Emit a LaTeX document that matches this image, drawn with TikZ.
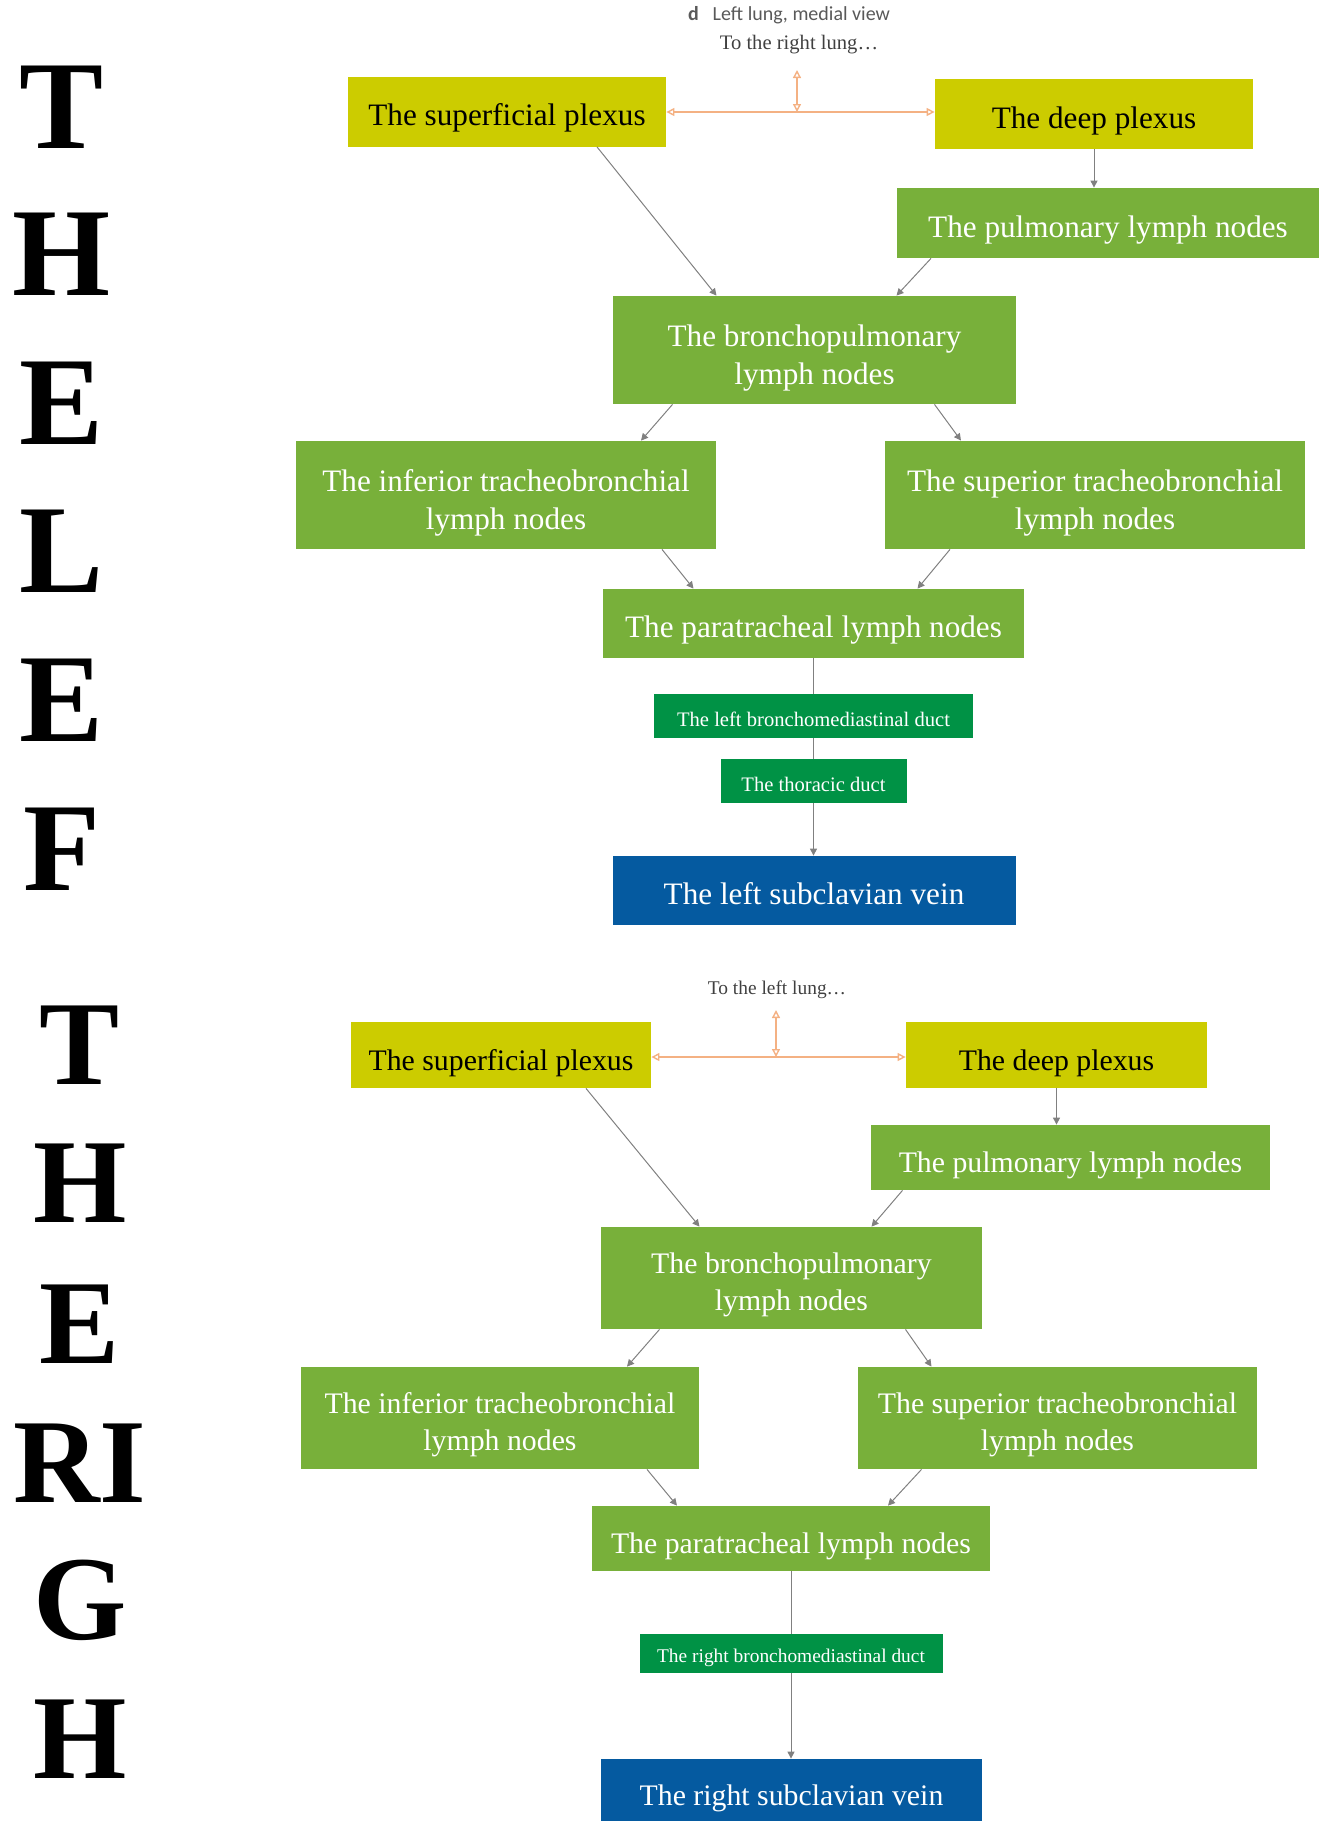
\documentclass[tikz,border=0pt]{standalone}
\usepackage{fontspec}
\setmainfont{Liberation Serif}
\newfontfamily\captionfont{Carlito}
\usepackage{xcolor}
\usepackage{tikz}
\definecolor{plexuscolor}{RGB}{204, 204, 0}
\definecolor{lymphcolor}{RGB}{120, 176, 58}
\definecolor{ductcolor}{RGB}{0, 146, 69}
\definecolor{veincolor}{RGB}{5, 90, 160}
\definecolor{lungcolor}{RGB}{244, 177, 131}
\definecolor{flowcolor}{RGB}{128, 128, 128}
\usetikzlibrary{arrows.meta, positioning, calc}
\def\firstlineht{18.6pt}
\newcommand{\firstline}{\rule{0pt}{\firstlineht}}

\begin{document}
\begin{tikzpicture}[
    x=0.5pt, y=-0.5pt,
    box/.style={rectangle, inner sep=0pt, align=center},
    bigfont/.style={font=\fontsize{15.6}{19}\selectfont, execute at begin node={\rule[-3.4pt]{0pt}{21pt}}},
    smallfont/.style={font=\fontsize{10.3}{12}\selectfont, execute at begin node={\rule[-2.2pt]{0pt}{14.9pt}}},
    plexus/.style={box, bigfont, fill=plexuscolor, text=black, minimum width=159pt, minimum height=35pt},
    lymph/.style={box, bigfont, fill=lymphcolor, text=white},
    duct/.style={box, smallfont, fill=ductcolor, text=white, minimum height=22pt},
    vein/.style={box, bigfont, fill=veincolor, text=white},
    note/.style={font=\fontsize{10.3}{12}\selectfont, text=black!75, inner sep=0pt},
    flow/.style={draw=flowcolor, line width=0.5pt, -{Triangle[length=3.5pt, width=3.5pt]}},
    link/.style={draw=flowcolor, line width=0.5pt},
    lung/.style={draw=lungcolor, line width=0.7pt, >={Triangle[open, length=4pt, width=4pt]}, ->},
    bigletter/.style={font=\bfseries\fontsize{63}{63}\selectfont, inner sep=0pt}
]
    \useasboundingbox (0,0) rectangle (1334,1821);

    % Side letters
    \foreach \ltr/\ypos [count=\i] in {T/107, H/254, E/403, L/551, E/700, F/849}
        \node[bigletter] (left\i) at (62,\ypos) {\ltr};
    \foreach \ltr/\ypos [count=\i] in {T/1045, H/1183, E/1324, RI/1463, G/1600, H/1739}
        \node[bigletter, font=\bfseries\fontsize{60}{60}\selectfont] (right\i) at (80,\ypos) {\ltr};

    % Left lung
    \node[text=black!65, font=\captionfont\fontsize{10}{12}\selectfont, inner sep=0pt] (caption) at (789,15) {\textbf{d}\hspace{0.7em}Left lung, medial view};
    \node[note] (toright) at (799,44.5) {To the right lung\ldots};

    \node[plexus] (sup1) at (507,111.5) {The superficial plexus};
    \node[plexus] (deep1) at (1094,114) {The deep plexus};
    \node[lymph, minimum width=211pt, minimum height=35pt] (pulm1) at (1108,223) {The pulmonary lymph nodes};
    \node[lymph, minimum width=201.5pt, minimum height=54pt] (bron1) at (814.5,350) {\firstline The bronchopulmonary\\lymph nodes};
    \node[lymph, minimum width=210pt, minimum height=54pt] (inf1) at (506,495) {\firstline The inferior tracheobronchial\\lymph nodes};
    \node[lymph, minimum width=210pt, minimum height=54pt] (suptb1) at (1095,495) {\firstline The superior tracheobronchial\\lymph nodes};
    \node[lymph, minimum width=210.5pt, minimum height=34.5pt] (para1) at (813.5,623.5) {The paratracheal lymph nodes};
    \node[duct, minimum width=159.5pt] (lbd) at (813.5,716) {The left bronchomediastinal duct};
    \node[duct, minimum width=93pt] (thor) at (813.5,781) {The thoracic duct};
    \node[vein, minimum width=201.5pt, minimum height=34.5pt] (lsv) at (814,890.5) {The left subclavian vein};

    \coordinate (junc1) at (797,112);
    \coordinate (up1) at (797,70);
    \draw[lung] (junc1) -- (sup1.east |- junc1);
    \draw[lung] (junc1) -- (deep1.west |- junc1);
    \draw[lung, <->] (junc1) -- (up1);

    \draw[flow] ([xshift=45pt]sup1.south) -- ([xshift=-49pt]bron1.north);
    \draw[flow] (deep1.south) -- (deep1.south |- pulm1.north);
    \draw[flow] ([xshift=-88.5pt]pulm1.south) -- ([xshift=41pt]bron1.north);
    \draw[flow] ([xshift=-71pt]bron1.south) -- ([xshift=67.5pt]inf1.north);
    \draw[flow] ([xshift=60pt]bron1.south) -- ([xshift=-67pt]suptb1.north);
    \draw[flow] ([xshift=78pt]inf1.south) -- ([xshift=-60pt]para1.north);
    \draw[flow] ([xshift=-72.5pt]suptb1.south) -- ([xshift=52pt]para1.north);
    \draw[link] (para1.south) -- (lbd.north);
    \draw[link] (lbd.south) -- (thor.north);
    \draw[flow] (thor.south) -- (thor.south |- lsv.north);

    % Right lung
    \begin{scope}[bigfont/.style={font=\fontsize{14.9}{18.5}\selectfont, execute at begin node={\rule[-3.3pt]{0pt}{21.6pt}}},
                  smallfont/.style={font=\fontsize{9.7}{11.5}\selectfont, execute at begin node={\rule[-2.1pt]{0pt}{13.3pt}}}]
    \def\firstlineht{17.2pt}
    \node[note, font=\fontsize{9.7}{11.5}\selectfont] (toleft) at (777,990) {To the left lung\ldots};

    \node[plexus, minimum width=150pt, minimum height=33pt] (sup2) at (501,1055) {The superficial plexus};
    \node[plexus, minimum width=150.5pt, minimum height=33pt] (deep2) at (1056.5,1055) {The deep plexus};
    \node[lymph, minimum width=199.5pt, minimum height=32.5pt] (pulm2) at (1070.5,1157.5) {The pulmonary lymph nodes};
    \node[lymph, minimum width=190.5pt, minimum height=51pt] (bron2) at (791.5,1278) {\firstline The bronchopulmonary\\lymph nodes};
    \node[lymph, minimum width=199pt, minimum height=51pt] (inf2) at (500,1418) {\firstline The inferior tracheobronchial\\lymph nodes};
    \node[lymph, minimum width=199.5pt, minimum height=51pt] (suptb2) at (1057.5,1418) {\firstline The superior tracheobronchial\\lymph nodes};
    \node[lymph, minimum width=199pt, minimum height=32.5pt] (para2) at (791,1538.5) {The paratracheal lymph nodes};
    \node[duct, minimum width=151.5pt, minimum height=19.5pt] (rbd) at (791,1653.5) {The right bronchomediastinal duct};
    \node[vein, minimum width=190.5pt, minimum height=31pt] (rsv) at (791.5,1790) {The right subclavian vein};

    \coordinate (junc2) at (776,1057);
    \coordinate (up2) at (776,1010);
    \draw[lung] (junc2) -- (sup2.east |- junc2);
    \draw[lung] (junc2) -- (deep2.west |- junc2);
    \draw[lung, <->] (junc2) -- (up2);

    \draw[flow] ([xshift=42.5pt]sup2.south) -- ([xshift=-46pt]bron2.north);
    \draw[flow] (deep2.south) -- (deep2.south |- pulm2.north);
    \draw[flow] ([xshift=-84pt]pulm2.south) -- ([xshift=40pt]bron2.north);
    \draw[flow] ([xshift=-66pt]bron2.south) -- ([xshift=63.5pt]inf2.north);
    \draw[flow] ([xshift=57pt]bron2.south) -- ([xshift=-63pt]suptb2.north);
    \draw[flow] ([xshift=73.5pt]inf2.south) -- ([xshift=-57pt]para2.north);
    \draw[flow] ([xshift=-68pt]suptb2.south) -- ([xshift=48.5pt]para2.north);
    \draw[link] (para2.south) -- (rbd.north);
    \draw[flow] (rbd.south) -- (rbd.south |- rsv.north);
    \end{scope}
\end{tikzpicture}
\end{document}
